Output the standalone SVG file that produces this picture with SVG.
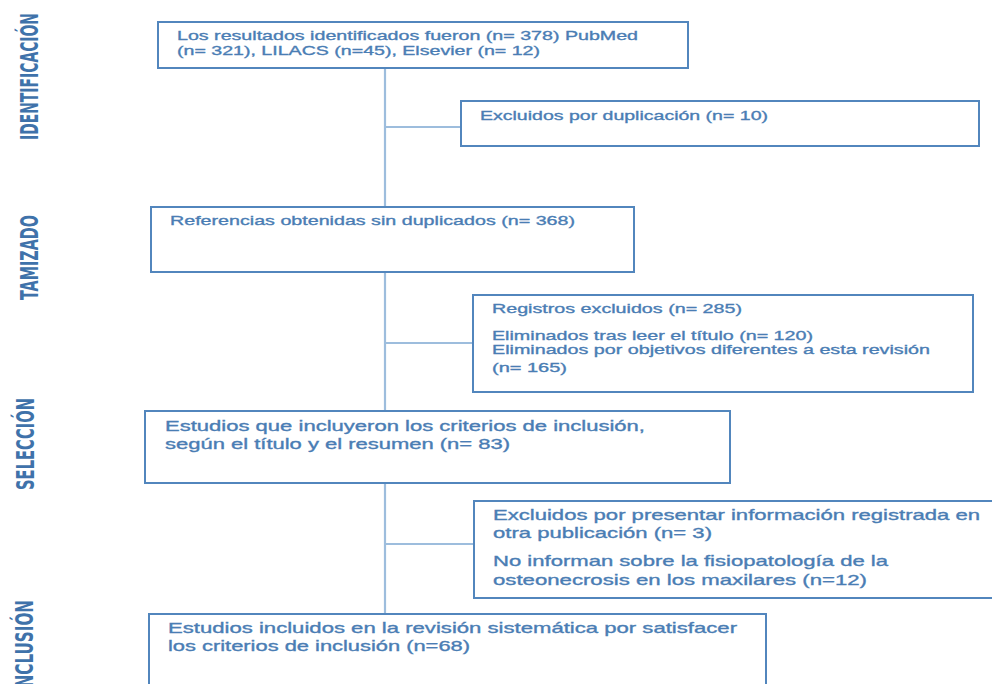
<svg xmlns="http://www.w3.org/2000/svg" width="992" height="684" viewBox="0 0 992 684">
<style>
.box{fill:#ffffff;stroke:#5286bd;stroke-width:2}
.t{font-family:"Liberation Sans",Arial,sans-serif;fill:#4a7db4;stroke:#4a7db4;stroke-width:0.35;font-size:13.5px}
.t15{font-size:15px}
.lab{font-family:"Liberation Sans Narrow","DejaVu Sans Condensed","Liberation Sans",sans-serif;font-weight:bold;fill:#3f72aa;font-size:25px}
.con{stroke:#9dbddd;stroke-width:2.2;fill:none}
</style>
<rect width="992" height="684" fill="#ffffff"/>
<g id="labels">
<text class="lab" transform="translate(38,140) rotate(-90)" textLength="127" lengthAdjust="spacingAndGlyphs">IDENTIFICACIÓN</text>
<text class="lab" transform="translate(38,300) rotate(-90)" textLength="85" lengthAdjust="spacingAndGlyphs">TAMIZADO</text>
<text class="lab" transform="translate(34,490) rotate(-90)" textLength="92" lengthAdjust="spacingAndGlyphs">SELECCIÓN</text>
<text class="lab" transform="translate(33,693) rotate(-90)" textLength="93" lengthAdjust="spacingAndGlyphs">INCLUSIÓN</text>
</g>
<g id="connectors">
<path class="con" d="M385,68V207M385,272V411M385,483V614M385,127H461M385,343H473M385,544H474"/>
</g>
<g id="n1">
<rect class="box" x="158" y="22" width="530" height="46"/>
<text class="t" x="177" y="39.5" font-size="12.5" textLength="461" lengthAdjust="spacingAndGlyphs">Los resultados identificados fueron (n= 378) PubMed</text>
<text class="t" x="177" y="54.5" font-size="12.5" textLength="363" lengthAdjust="spacingAndGlyphs">(n= 321), LILACS (n=45), Elsevier (n= 12)</text>
</g>
<g id="n2">
<rect class="box" x="461" y="101" width="518" height="45"/>
<text class="t" x="480" y="120" textLength="288" lengthAdjust="spacingAndGlyphs">Excluidos por duplicación (n= 10)</text>
</g>
<g id="n3">
<rect class="box" x="151" y="207" width="483" height="65"/>
<text class="t" x="170" y="225" textLength="405" lengthAdjust="spacingAndGlyphs">Referencias obtenidas sin duplicados (n= 368)</text>
</g>
<g id="n4">
<rect class="box" x="473" y="295" width="500" height="97"/>
<text class="t" x="492" y="313" textLength="250" lengthAdjust="spacingAndGlyphs">Registros excluidos (n= 285)</text>
<text class="t" x="492" y="340" textLength="321" lengthAdjust="spacingAndGlyphs">Eliminados tras leer el título (n= 120)</text>
<text class="t" x="492" y="354" textLength="438" lengthAdjust="spacingAndGlyphs">Eliminados por objetivos diferentes a esta revisión</text>
<text class="t" x="492" y="372" textLength="75" lengthAdjust="spacingAndGlyphs">(n= 165)</text>
</g>
<g id="n5">
<rect class="box" x="145" y="411" width="585" height="72"/>
<text class="t t15" x="165" y="431" textLength="480" lengthAdjust="spacingAndGlyphs">Estudios que incluyeron los criterios de inclusión,</text>
<text class="t t15" x="165" y="449" textLength="345" lengthAdjust="spacingAndGlyphs">según el título y el resumen (n= 83)</text>
</g>
<g id="n6">
<rect class="box" x="474" y="501" width="530" height="97"/>
<text class="t t15" x="493" y="520" textLength="487" lengthAdjust="spacingAndGlyphs">Excluidos por presentar información registrada en</text>
<text class="t t15" x="493" y="538" textLength="219" lengthAdjust="spacingAndGlyphs">otra publicación (n= 3)</text>
<text class="t t15" x="493" y="566" textLength="395" lengthAdjust="spacingAndGlyphs">No informan sobre la fisiopatología de la</text>
<text class="t t15" x="493" y="585" textLength="374" lengthAdjust="spacingAndGlyphs">osteonecrosis en los maxilares (n=12)</text>
</g>
<g id="n7">
<rect class="box" x="149" y="614" width="617" height="80"/>
<text class="t t15" x="168" y="633" textLength="569" lengthAdjust="spacingAndGlyphs">Estudios incluidos en la revisión sistemática por satisfacer</text>
<text class="t t15" x="168" y="651" textLength="302" lengthAdjust="spacingAndGlyphs">los criterios de inclusión (n=68)</text>
</g>
</svg>
